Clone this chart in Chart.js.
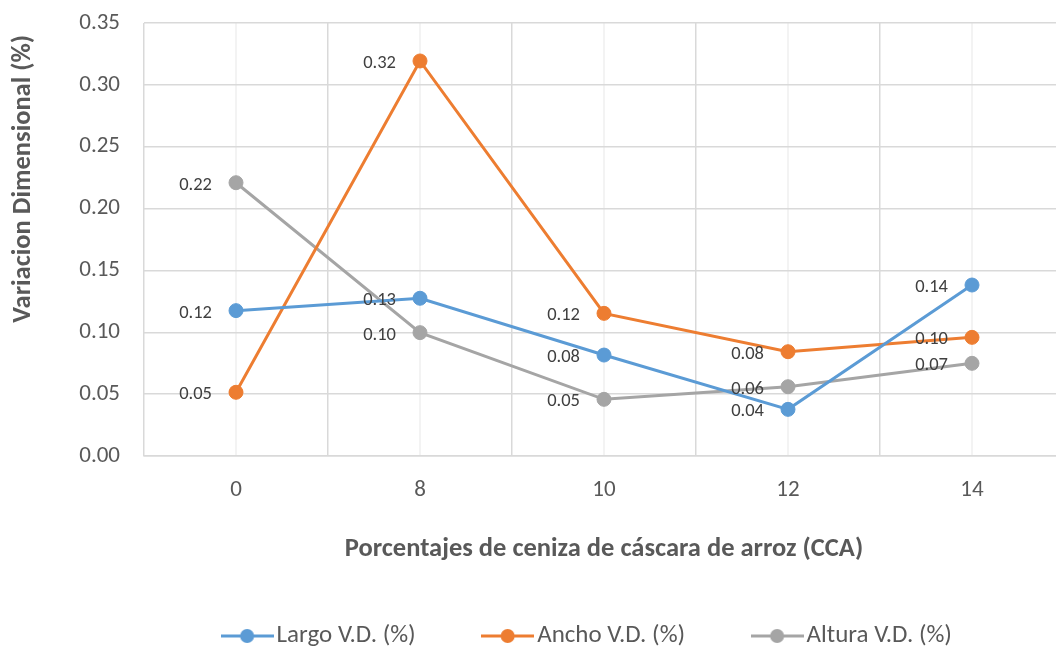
<!DOCTYPE html>
<html>
<head>
    <title>Variacion Dimensional</title>
    <script src="https://cdn.jsdelivr.net/npm/chart.js"></script>
    <style>
        html, body { margin: 0; padding: 0; background: #fff; overflow: hidden; }
        /* the original chart is cropped on the right: plot area and legend run past the picture */
        #wrap { width: 1182px; height: 646px; position: relative; }
    </style>
</head>
<body>
    <div id="wrap"><canvas id="vdChart"></canvas></div>

    <script>
    // data
    const categories = ['0', '8', '10', '12', '14'];
    const largoVD  = [0.1175, 0.1275, 0.0816, 0.0377, 0.1382];
    const anchoVD  = [0.0515, 0.3193, 0.1153, 0.0843, 0.0959];
    const alturaVD = [0.2209, 0.0997, 0.0458, 0.0560, 0.0749];
    const seriesNames = ['Largo V.D. (%)', 'Ancho V.D. (%)', 'Altura V.D. (%)'];
    const seriesColors = ['#5b9bd5', '#ed7d31', '#a5a5a5'];
    const yTicks = [0, 0.05, 0.10, 0.15, 0.20, 0.25, 0.30, 0.35];

    const FONT = "Carlito, Calibri, Lato, sans-serif";
    const TEXT = '#595959';
    const GRID = '#d9d9d9';

    // legend marker: short line with a dot, like the office legend
    function legendMarker(color) {
        const c = document.createElement('canvas');
        c.width = 53; c.height = 16;
        const g = c.getContext('2d');
        g.strokeStyle = color;
        g.lineWidth = 3;
        g.beginPath(); g.moveTo(0, 8); g.lineTo(53, 8); g.stroke();
        g.fillStyle = color;
        g.beginPath(); g.arc(26.5, 8, 7, 0, Math.PI * 2); g.fill();
        return c;
    }
    const markers = seriesColors.map(legendMarker);

    function makeSet(label, data, color) {
        return {
            label: label,
            data: data,
            borderColor: color,
            backgroundColor: color,
            borderWidth: 3,
            pointRadius: 7,
            pointBorderWidth: 1,
            pointBackgroundColor: color,
            pointBorderColor: color,
            pointStyle: 'circle',
            tension: 0
        };
    }

    // light vertical lines through each category
    const centerLines = {
        id: 'centerLines',
        beforeDraw(chart) {
            const { ctx, chartArea, scales } = chart;
            ctx.save();
            ctx.strokeStyle = '#efefef';
            ctx.lineWidth = 1.5;
            categories.forEach((c, i) => {
                const x = scales.x.getPixelForValue(i);
                ctx.beginPath();
                ctx.moveTo(x, chartArea.top);
                ctx.lineTo(x, chartArea.bottom);
                ctx.stroke();
            });
            ctx.restore();
        }
    };

    // value labels to the left of each point
    const valueLabels = {
        id: 'valueLabels',
        afterDatasetsDraw(chart) {
            const ctx = chart.ctx;
            ctx.save();
            ctx.font = '18.5px ' + FONT;
            ctx.fillStyle = '#404040';
            ctx.textAlign = 'right';
            ctx.textBaseline = 'middle';
            chart.data.datasets.forEach((ds, di) => {
                chart.getDatasetMeta(di).data.forEach((pt, i) => {
                    ctx.fillText(ds.data[i].toFixed(2), pt.x - 24, pt.y + 2.5);
                });
            });
            ctx.restore();
        }
    };

    const ctx = document.getElementById('vdChart').getContext('2d');
    new Chart(ctx, {
        type: 'line',
        data: {
            labels: categories,
            datasets: [
                makeSet(seriesNames[0], largoVD, seriesColors[0]),
                makeSet(seriesNames[1], anchoVD, seriesColors[1]),
                makeSet(seriesNames[2], alturaVD, seriesColors[2])
            ]
        },
        options: {
            responsive: true,
            maintainAspectRatio: false,
            animation: false,
            layout: { padding: { top: 23, left: 0, right: 0, bottom: 0 } },
            plugins: {
                tooltip: { enabled: false },
                legend: {
                    position: 'bottom',
                    maxHeight: 97.5,
                    labels: {
                        usePointStyle: true,
                        pointStyleWidth: 34,
                        padding: 75,
                        color: TEXT,
                        font: { family: FONT, size: 25 },
                        generateLabels(chart) {
                            const items = Chart.defaults.plugins.legend.labels.generateLabels(chart);
                            items.forEach((it, i) => { it.pointStyle = markers[i]; });
                            return items;
                        }
                    }
                }
            },
            scales: {
                x: {
                    offset: true,
                    grid: { offset: true, color: GRID, lineWidth: 1.5, drawTicks: false },
                    border: { color: GRID, width: 1.5 },
                    ticks: { color: TEXT, padding: 20, font: { family: FONT, size: 23 } },
                    title: {
                        display: true,
                        text: 'Porcentajes de ceniza de cáscara de arroz (CCA)',
                        color: TEXT,
                        padding: { top: 0, bottom: -13.75 },
                        font: { family: FONT, size: 26.5, weight: 'bold', lineHeight: 1 }
                    },
                    afterFit(scale) { scale.height = 92.5; }
                },
                y: {
                    min: 0,
                    max: 0.35,
                    afterBuildTicks(scale) { scale.ticks = yTicks.map(v => ({ value: v })); },
                    grid: { color: GRID, lineWidth: 1.5, drawTicks: false },
                    border: { display: false },
                    ticks: {
                        color: TEXT,
                        padding: 24,
                        font: { family: FONT, size: 23 },
                        callback: v => v.toFixed(2)
                    },
                    title: {
                        display: true,
                        align: 'end',
                        text: 'Variacion Dimensional (%)  ',
                        color: TEXT,
                        padding: { top: 10, bottom: 0 },
                        font: { family: FONT, size: 26.5, weight: 'bold', lineHeight: 1 }
                    },
                    afterFit(scale) {
                        scale.width = 144;
                        // keep the plot top at the layout padding, not pushed down by the label gap
                        scale.paddingTop = 0;
                        scale.paddingBottom = 0;
                    }
                },
                // empty right margin of the original chart (outside the picture)
                yRight: {
                    position: 'right',
                    grid: { display: false },
                    border: { display: false },
                    ticks: { display: false },
                    afterFit(scale) { scale.width = 118; scale.paddingTop = 0; scale.paddingBottom = 0; }
                }
            }
        },
        plugins: [centerLines, valueLabels]
    });
    </script>
</body>
</html>
